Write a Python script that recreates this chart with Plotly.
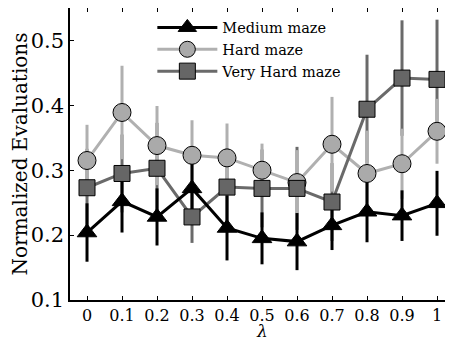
import plotly.graph_objects as go

lam = [0, 0.1, 0.2, 0.3, 0.4, 0.5, 0.6, 0.7, 0.8, 0.9, 1.0]
tick_labels = ["0", "0.1", "0.2", "0.3", "0.4", "0.5", "0.6", "0.7", "0.8", "0.9", "1"]

medium = [0.204, 0.252, 0.228, 0.272, 0.211, 0.195, 0.190, 0.215, 0.236, 0.230, 0.249]
medium_err = [0.045, 0.048, 0.044, 0.040, 0.050, 0.040, 0.044, 0.038, 0.047, 0.039, 0.050]

hard = [0.315, 0.389, 0.338, 0.323, 0.319, 0.300, 0.281, 0.340, 0.295, 0.310, 0.360]
hard_err = [0.055, 0.072, 0.061, 0.054, 0.053, 0.041, 0.050, 0.073, 0.066, 0.054, 0.050]

very_hard = [0.273, 0.295, 0.303, 0.228, 0.274, 0.272, 0.272, 0.251, 0.394, 0.442, 0.440]
very_hard_err = [0.060, 0.060, 0.070, 0.040, 0.060, 0.060, 0.064, 0.060, 0.084, 0.089, 0.092]

FONT = "DejaVu Serif"

series = [
    ("Medium maze", medium, medium_err, "#000000", "#000000", "triangle-up", 17),
    ("Hard maze", hard, hard_err, "#aaaaaa", "#b0b0b0", "circle", 18),
    ("Very Hard maze", very_hard, very_hard_err, "#666666", "#6a6a6a", "square", 16),
]

fig = go.Figure()

# error bars first (beneath all lines/markers)
for name, vals, errs, fill, lcol, sym, sz in [series[2], series[1], series[0]]:
    fig.add_trace(go.Scatter(
        x=lam, y=vals, mode="markers", showlegend=False, hoverinfo="skip",
        marker=dict(size=1, color="rgba(0,0,0,0)"),
        error_y=dict(type="data", array=errs, visible=True, color=lcol,
                     thickness=3, width=0),
    ))

rank = {"Medium maze": 1, "Hard maze": 2, "Very Hard maze": 3}
for name, vals, errs, fill, lcol, sym, sz in [series[1], series[2], series[0]]:
    fig.add_trace(go.Scatter(
        x=lam, y=vals, mode="lines+markers", name=name, legendrank=rank[name],
        line=dict(color=lcol, width=3),
        marker=dict(symbol=sym, size=sz, color=fill,
                    line=dict(color="#000000", width=1)),
    ))

# page body has an 8px margin; the figure is sized to fit the 453x341 window
fig.update_layout(
    width=445, height=333,
    margin=dict(l=62, r=0, t=0, b=41),
    paper_bgcolor="white", plot_bgcolor="white",
    font=dict(family=FONT, color="black"),
    legend=dict(x=0.215, y=0.988, xanchor="left", yanchor="top",
                bgcolor="rgba(0,0,0,0)", font=dict(family=FONT, size=14.5),
                itemwidth=60, tracegroupgap=0),
    showlegend=True,
    annotations=[dict(text="<i>λ</i>", xref="paper", yref="paper", x=0.5, y=0,
                      xanchor="center", yanchor="middle", yshift=-31,
                      showarrow=False, font=dict(family=FONT, size=17))],
)
fig.update_xaxes(
    range=[-0.0486, 1.0457], tickvals=lam, ticktext=tick_labels,
    ticks="inside", ticklen=4, tickcolor="black",
    showline=True, linecolor="black", linewidth=1.5, mirror="ticks",
    showgrid=False, zeroline=False, automargin=False,
    tickfont=dict(family=FONT, size=16),
)
fig.update_yaxes(
    range=[0.1, 0.55], tickvals=[0.1, 0.2, 0.3, 0.4, 0.5],
    ticktext=["0.1", "0.2", "0.3", "0.4", "0.5"],
    ticks="inside", ticklen=4, tickcolor="black",
    showline=True, linecolor="black", linewidth=1.5, mirror=False,
    showgrid=False, zeroline=False, automargin=False,
    tickfont=dict(family=FONT, size=21),
    title=dict(text="Normalized Evaluations", font=dict(family=FONT, size=20), standoff=4),
)

fig.write_html("out.html")
